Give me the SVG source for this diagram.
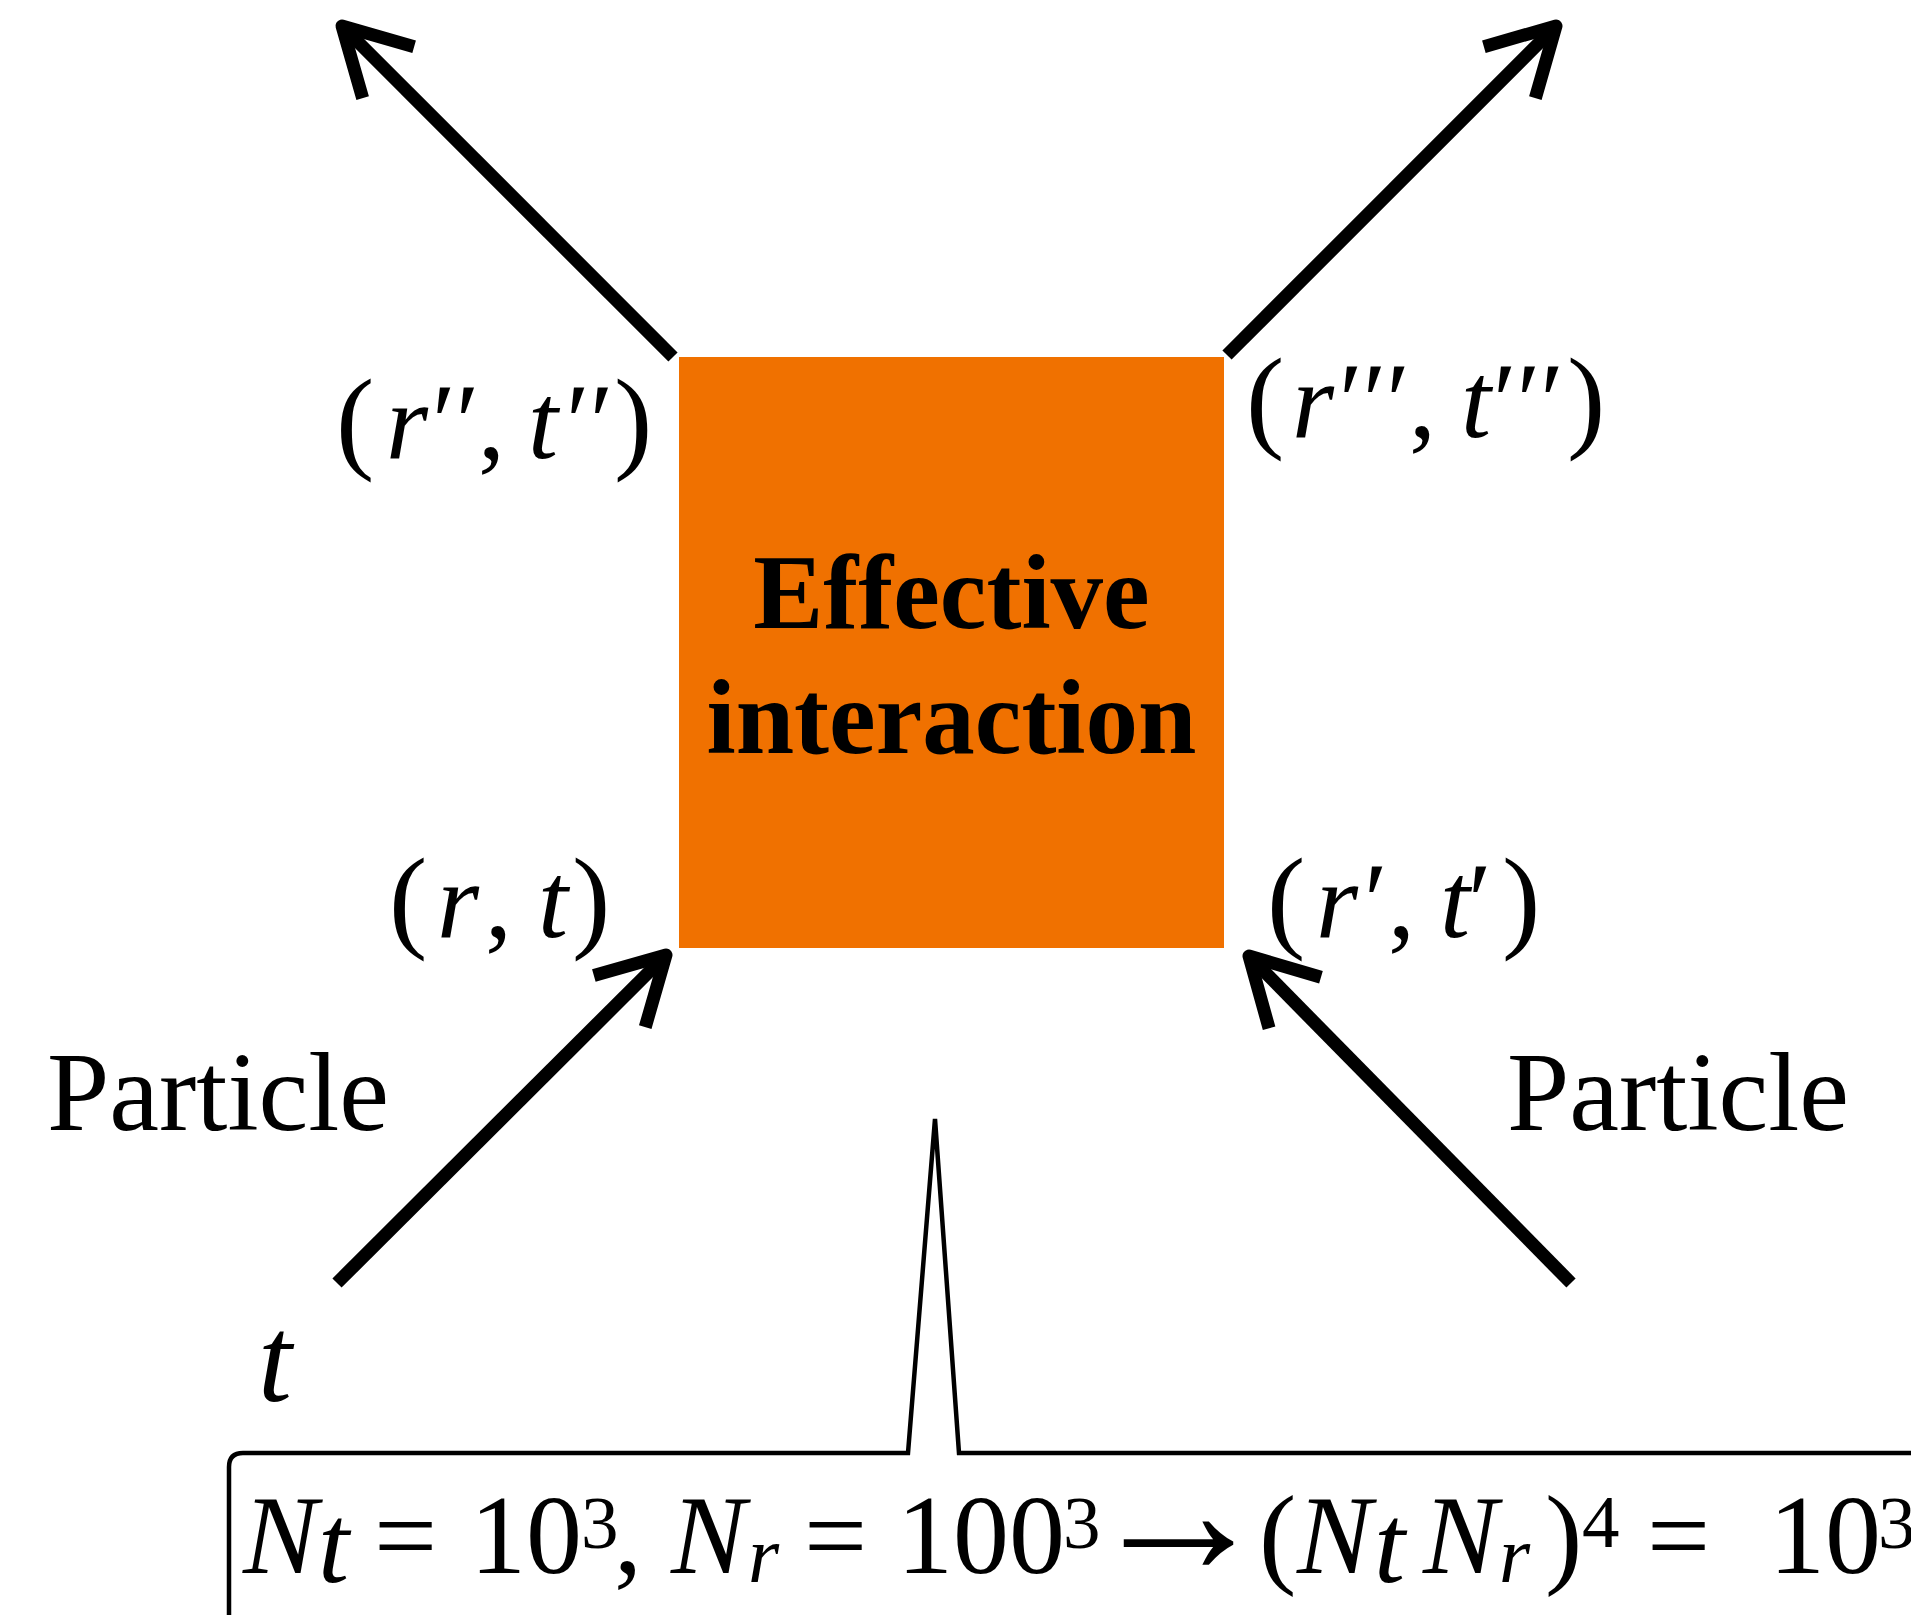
<svg xmlns="http://www.w3.org/2000/svg" width="1911" height="1615" viewBox="0 0 1911 1615">
<style>
.m{font-family:"Liberation Serif","Times New Roman",serif;fill:#000}
.i{font-style:italic}
.p{font-size:115px}
.v{font-size:108px}
.lbl{font-family:"Liberation Serif","Times New Roman",serif;font-size:112px;fill:#000}
.title{font-family:"Liberation Serif","Times New Roman",serif;font-size:105px;font-weight:bold;fill:#000;text-anchor:middle}
.arrow{stroke:#000;stroke-width:13;fill:none;marker-end:url(#ah)}
.call{stroke:#000;stroke-width:4.5;fill:none;stroke-linejoin:miter}
</style>
<defs>
<marker id="ah" markerUnits="userSpaceOnUse" orient="auto" refX="0" refY="0" markerWidth="200" markerHeight="200" viewBox="-100 -100 200 200" overflow="visible">
<path d="M-65.6,-36.4 L0,0 L-65.6,36.4" fill="none" stroke="#000" stroke-width="13" stroke-linejoin="round"/>
</marker>
</defs>
<rect width="1911" height="1615" fill="#fff"/>

<g id="interaction">
<rect x="679" y="357" width="545" height="591" fill="#F07100"/>
<text class="title" x="951.5" y="628">Effective</text>
<text class="title" x="951.5" y="753">interaction</text>
</g>

<g id="connectors">
<line class="arrow" x1="673" y1="357" x2="342" y2="26"/>
<line class="arrow" x1="1227" y1="355" x2="1556" y2="26"/>
<line class="arrow" x1="337" y1="1283" x2="666" y2="955"/>
<line class="arrow" x1="1571" y1="1283" x2="1249" y2="956"/>
</g>

<g id="label-r2t2">
<text class="m" y="458"><tspan class="p" x="336">(</tspan><tspan class="v i" x="386">r</tspan><tspan class="v" x="432">′′</tspan><tspan class="v" x="478">,</tspan><tspan class="v i" x="528">t</tspan><tspan class="v" x="566">′′</tspan><tspan class="p" x="614">)</tspan></text>
</g>
<g id="label-r3t3">
<text class="m" y="437"><tspan class="p" x="1246">(</tspan><tspan class="v i" x="1292">r</tspan><tspan class="v" x="1339">′′′</tspan><tspan class="v" x="1409">,</tspan><tspan class="v i" x="1461">t</tspan><tspan class="v" x="1493">′′′</tspan><tspan class="p" x="1567">)</tspan></text>
</g>
<g id="label-rt">
<text class="m" y="937"><tspan class="p" x="389">(</tspan><tspan class="v i" x="437">r</tspan><tspan class="v" x="485">,</tspan><tspan class="v i" x="538">t</tspan><tspan class="p" x="572">)</tspan></text>
</g>
<g id="label-r1t1">
<text class="m" y="937"><tspan class="p" x="1267">(</tspan><tspan class="v i" x="1316">r</tspan><tspan class="v" x="1364">′</tspan><tspan class="v" x="1388">,</tspan><tspan class="v i" x="1440">t</tspan><tspan class="v" x="1468">′</tspan><tspan class="p" x="1502">)</tspan></text>
</g>

<g id="particle-left">
<text class="lbl" x="47" y="1130">Particle</text>
</g>
<g id="particle-right">
<text class="lbl" x="1507" y="1130">Particle</text>
</g>
<g id="t-label">
<text class="m i" x="258" y="1401" style="font-size:122px">t</text>
</g>

<g id="callout">
<path class="call" d="M229,1640 L229,1467 Q229,1453 243,1453 L908,1453 L935,1119 L959,1453 L1930,1453"/>
<text class="m" style="font-size:112px"><tspan class="i" x="243" y="1573">N</tspan><tspan class="i" x="318" y="1582">t</tspan><tspan x="374" y="1573">=</tspan><tspan x="470" y="1573">10</tspan><tspan x="581" y="1548" style="font-size:75px">3</tspan><tspan x="614" y="1573">,</tspan><tspan class="i" x="671" y="1573">N</tspan><tspan class="i" x="748" y="1582" style="font-size:80px">r</tspan><tspan x="804" y="1573">=</tspan><tspan x="897" y="1573">100</tspan><tspan x="1063" y="1548" style="font-size:75px">3</tspan><tspan x="1086" y="1574" style="font-size:185px">→</tspan><tspan x="1259" y="1573">(</tspan><tspan class="i" x="1297" y="1573">N</tspan><tspan class="i" x="1374" y="1582">t</tspan><tspan class="i" x="1423" y="1573">N</tspan><tspan class="i" x="1499" y="1582" style="font-size:80px">r</tspan><tspan x="1545" y="1573">)</tspan><tspan x="1582" y="1547" style="font-size:75px">4</tspan><tspan x="1647" y="1573">=</tspan><tspan x="1769" y="1573">10</tspan><tspan x="1878" y="1548" style="font-size:75px">3</tspan></text>
</g>
</svg>
